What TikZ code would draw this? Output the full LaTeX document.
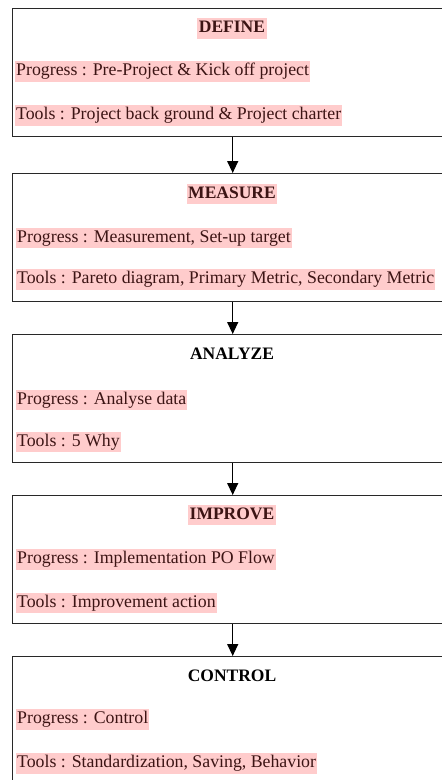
\documentclass[tikz,border=0pt]{standalone}
\usepackage{fontspec}
\setmainfont{Liberation Serif}
\usetikzlibrary{arrows.meta}
\definecolor{hl}{RGB}{255,204,204}
\definecolor{hltext}{RGB}{60,20,20}
\definecolor{frame}{RGB}{40,40,40}
\begin{document}
\begin{tikzpicture}[x=1pt,y=-1pt,
  stage/.style={draw=frame, line width=1.4pt, minimum width=440pt,
    minimum height=127.5pt, anchor=north west, inner sep=0pt},
  heading/.style={font=\fontsize{17.5}{20}\selectfont\bfseries, inner xsep=1.5pt,
    inner ysep=2pt, text height=12.5pt, text depth=4pt, anchor=center},
  marked/.style={fill=hl, text=hltext},
  entry/.style={font=\fontsize{17.8}{20}\selectfont, fill=hl, text=hltext,
    inner xsep=1pt, inner ysep=2pt, text height=12.5pt, text depth=4pt, anchor=west},
  flow/.style={line width=1.3pt, -{Triangle[width=11pt,length=12pt]}}]
\useasboundingbox (0,0) rectangle (442,780);

% the five DMAIC stages
\node[stage] (define)  at (12,8)   {};
\node[stage] (measure) at (12,173) {};
\node[stage] (analyze) at (12,334) {};
\node[stage] (improve) at (12,495) {};
\node[stage] (control) at (12,656) {};

% DEFINE
\node[heading, marked] (defineT) at (232,28.5) {DEFINE};
\node[entry] (defineP) at (15,71.5)  {Progress : Pre-Project \& Kick off project};
\node[entry] (defineU) at (15,115.5) {Tools : Project back ground \& Project charter};

% MEASURE
\node[heading, marked] (measureT) at (232,194) {MEASURE};
\node[entry] (measureP) at (16,238) {Progress : Measurement, Set-up target};
\node[entry] (measureU) at (16,279.5) {Tools : Pareto diagram, Primary Metric, Secondary Metric};

% ANALYZE
\node[heading] (analyzeT) at (232,355) {ANALYZE};
\node[entry] (analyzeP) at (16,400) {Progress : Analyse data};
\node[entry] (analyzeU) at (16,442) {Tools : 5 Why};

% IMPROVE
\node[heading, marked] (improveT) at (232,515) {IMPROVE};
\node[entry] (improveP) at (16,559.5) {Progress : Implementation PO Flow};
\node[entry] (improveU) at (16,603) {Tools : Improvement action};

% CONTROL
\node[heading] (controlT) at (232,677) {CONTROL};
\node[entry] (controlP) at (16,719.5) {Progress : Control};
\node[entry] (controlU) at (16,763.5) {Tools : Standardization, Saving, Behavior};

% flow between stages
\draw[flow] (define.south)  -- (measure.north);
\draw[flow] (measure.south) -- (analyze.north);
\draw[flow] (analyze.south) -- (improve.north);
\draw[flow] (improve.south) -- (control.north);
\end{tikzpicture}
\end{document}
